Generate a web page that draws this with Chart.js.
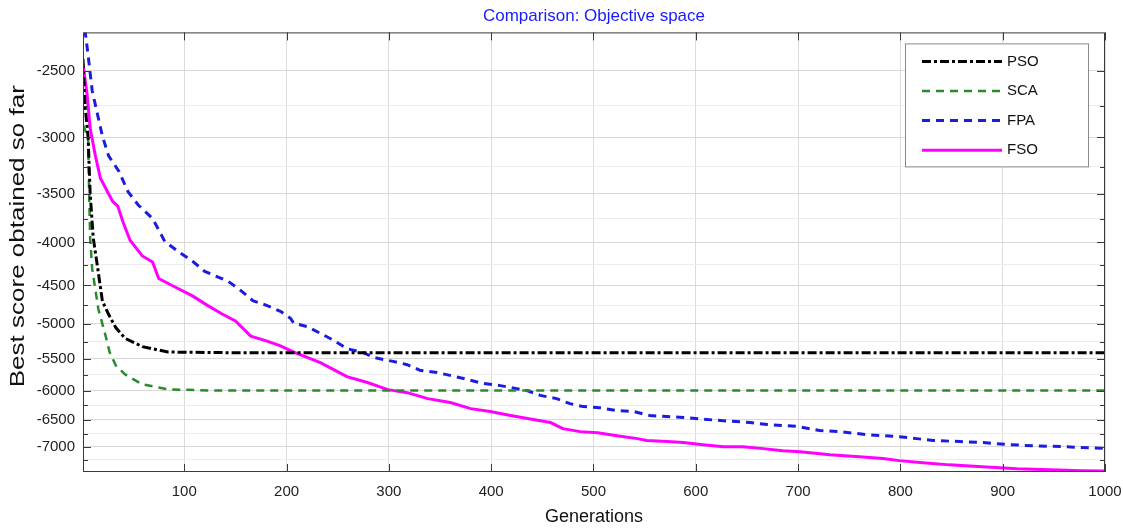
<!DOCTYPE html>
<html>
<head>
<meta charset="utf-8">
<title>Comparison: Objective space</title>
<script src="https://cdn.jsdelivr.net/npm/chart.js@4.4.1/dist/chart.umd.min.js"></script>
<style>
  html, body { margin: 0; padding: 0; background: #fff; }
</style>
</head>
<body>
<canvas id="scoreChart" width="1123" height="530"></canvas>
<script>
const FONT = "'Liberation Sans', Arial, sans-serif";

// Best score at the given generations
const psoGen  = [1, 3, 6, 8, 11, 15, 20, 26, 33, 42, 59, 84, 150, 1000];
const psoBest = [-2420, -2750, -3000, -3500, -3950, -4260, -4700, -4870, -5050, -5200, -5320, -5400, -5410, -5410];

const scaGen  = [1, 6, 7, 8, 10, 16, 23, 27, 33, 42, 59, 84, 124, 1000];
const scaBest = [-2900, -3000, -3500, -3950, -4300, -4800, -5160, -5400, -5600, -5740, -5900, -5980, -6000, -6000];

const fpaGen  = [1, 3, 6, 10, 15, 20, 26, 36, 45, 55, 69, 81, 94, 108, 120, 143, 155, 167, 181, 194, 204, 207,
  220, 233, 246, 259, 275, 285, 304, 318, 331, 347, 373, 392, 409, 435, 448, 464, 477, 490, 506, 523, 539,
  555, 588, 621, 653, 670, 699, 721, 741, 767, 799, 816, 832, 858, 881, 907, 930, 963, 985, 1000];
const fpaBest = [-2150, -2240, -2395, -2640, -2810, -2990, -3155, -3290, -3480, -3610, -3745, -3990, -4100, -4210,
  -4330, -4450, -4560, -4690, -4755, -4830, -4925, -4990, -5035, -5130, -5230, -5350, -5410, -5480, -5540,
  -5590, -5680, -5710, -5805, -5885, -5920, -6000, -6080, -6135, -6220, -6270, -6290, -6340, -6355, -6425,
  -6460, -6510, -6550, -6585, -6620, -6695, -6715, -6770, -6810, -6845, -6880, -6900, -6920, -6960, -6980,
  -7000, -7020, -7030];

const fsoGen  = [1, 5, 8, 13, 18, 30, 35, 40, 47, 59, 69, 75, 88, 108, 123, 137, 150, 165, 181, 194, 207, 220,
  233, 246, 259, 279, 299, 318, 338, 360, 380, 399, 419, 441, 458, 470, 487, 504, 523, 543, 552, 572, 588,
  607, 627, 646, 666, 685, 702, 731, 760, 783, 799, 822, 848, 880, 914, 946, 978, 1000];
const fsoBest = [-2460, -2665, -2925, -3150, -3355, -3575, -3620, -3780, -3975, -4150, -4220, -4415, -4500,
  -4630, -4755, -4865, -4960, -5170, -5240, -5310, -5400, -5480, -5560, -5665, -5775, -5870, -5985, -6035,
  -6135, -6200, -6305, -6355, -6425, -6495, -6550, -6660, -6715, -6735, -6790, -6845, -6880, -6900, -6920,
  -6960, -7000, -7000, -7035, -7075, -7095, -7155, -7195, -7230, -7270, -7310, -7355, -7395, -7435, -7455,
  -7475, -7480];

const seriesNames = ['PSO', 'SCA', 'FPA', 'FSO'];

// Axis ticks
const xTicks = [100, 200, 300, 400, 500, 600, 700, 800, 900, 1000];
const yTicks = [-2500, -3000, -3500, -4000, -4500, -5000, -5500, -6000, -6500, -7000];
const yMinorTicks = [-2750, -3250, -3750, -4250, -4750, -5250, -5750, -6250, -6750, -7250];

// y axis is logarithmic in the size of the (negative) score
const toPoints = (gens, best) => gens.map((g, i) => ({ x: g, y: Math.abs(best[i]) }));

const datasets = [
  { label: seriesNames[0], data: toPoints(psoGen, psoBest), borderColor: '#000000', borderWidth: 3, borderDash: [9, 3, 3, 3] },
  { label: seriesNames[1], data: toPoints(scaGen, scaBest), borderColor: '#2b8a2b', borderWidth: 2.5, borderDash: [8, 6] },
  { label: seriesNames[2], data: toPoints(fpaGen, fpaBest), borderColor: '#1c1ce0', borderWidth: 3, borderDash: [8, 6] },
  { label: seriesNames[3], data: toPoints(fsoGen, fsoBest), borderColor: '#ff00ff', borderWidth: 3, borderDash: [] },
].map((d) => ({ ...d, pointRadius: 0, tension: 0, fill: false, clip: 0 }));

// Box around the plot, inward ticks, legend and the y title
const framePlugin = {
  id: 'framePlugin',
  afterDatasetsDraw(chart) {
    const { ctx, chartArea: a, scales: { x, y } } = chart;
    ctx.save();
    ctx.strokeStyle = '#3a3a3a';
    ctx.lineWidth = 1;
    ctx.setLineDash([]);
    ctx.strokeRect(a.left + 0.5, a.top + 0.5, a.right - a.left - 1, a.bottom - a.top - 1);

    ctx.beginPath();
    xTicks.forEach((v) => {
      const px = Math.round(x.getPixelForValue(v)) + 0.5;
      ctx.moveTo(px, a.bottom); ctx.lineTo(px, a.bottom - 8);
      ctx.moveTo(px, a.top); ctx.lineTo(px, a.top + 8);
    });
    yTicks.concat(yMinorTicks).forEach((v) => {
      const py = Math.round(y.getPixelForValue(Math.abs(v))) + 0.5;
      const len = yMinorTicks.includes(v) ? 5 : 8;
      ctx.moveTo(a.left, py); ctx.lineTo(a.left + len, py);
      ctx.moveTo(a.right, py); ctx.lineTo(a.right - len, py);
    });
    ctx.stroke();

    // legend
    const bx = a.right - 200, by = a.top + 11, bw = 183, bh = 123;
    ctx.fillStyle = '#ffffff';
    ctx.fillRect(bx, by, bw, bh);
    ctx.strokeStyle = '#8a8a8a';
    ctx.strokeRect(bx + 0.5, by + 0.5, bw, bh);
    ctx.font = `15px ${FONT}`;
    ctx.textBaseline = 'middle';
    ctx.textAlign = 'left';
    chart.data.datasets.forEach((ds, i) => {
      const ry = by + 18 + i * 29.6;
      ctx.beginPath();
      ctx.strokeStyle = ds.borderColor;
      ctx.lineWidth = ds.borderWidth;
      ctx.setLineDash(ds.borderDash);
      ctx.moveTo(bx + 17, ry);
      ctx.lineTo(bx + 97, ry);
      ctx.stroke();
      ctx.setLineDash([]);
      ctx.fillStyle = '#111';
      ctx.fillText(ds.label, bx + 102, ry);
    });

    // y axis title, squeezed like the rest of the figure
    ctx.translate(19, (a.top + a.bottom) / 2 - 16);
    ctx.rotate(-Math.PI / 2);
    ctx.scale(1, 0.76);
    ctx.font = `26px ${FONT}`;
    ctx.textAlign = 'center';
    ctx.fillStyle = '#111';
    ctx.fillText('Best score obtained so far', 0, 0);
    ctx.restore();
  },
};

const chart = new Chart(document.getElementById('scoreChart').getContext('2d'), {
  type: 'line',
  data: { datasets },
  plugins: [framePlugin],
  options: {
    responsive: false,
    animation: false,
    events: [],
    layout: { padding: { left: 0, right: 18, top: 0, bottom: 0 } },
    plugins: {
      legend: { display: false },
      tooltip: { enabled: false },
      title: {
        display: true,
        fullSize: false,
        text: 'Comparison: Objective space',
        color: '#1a1aff',
        font: { family: FONT, size: 17, weight: 'normal' },
        padding: { top: 6, bottom: 6 },
      },
    },
    scales: {
      x: {
        type: 'linear',
        min: 1,
        max: 1000,
        afterBuildTicks: (s) => { s.ticks = xTicks.map((v) => ({ value: v })); },
        afterFit: (s) => { s.height = 58; s.paddingLeft = 0; s.paddingRight = 0; },
        grid: { color: '#dcdcdc', drawTicks: false },
        border: { display: false },
        ticks: {
          padding: 11,
          color: '#222',
          autoSkip: false,
          maxRotation: 0,
          font: { family: FONT, size: 15 },
          callback: (v) => String(v),
        },
        title: { display: true, text: 'Generations', color: '#111', font: { family: FONT, size: 18 }, padding: { top: 0, bottom: 2 } },
      },
      y: {
        type: 'logarithmic',
        reverse: true,
        min: 2250,
        max: 7500,
        afterBuildTicks: (s) => {
          s.ticks = yTicks.concat(yMinorTicks).map((v) => Math.abs(v)).sort((p, q) => p - q).map((v) => ({ value: v }));
        },
        afterFit: (s) => { s.width = 83; s.paddingTop = 0; s.paddingBottom = 0; },
        grid: {
          drawTicks: false,
          color: (c) => (c.tick && yMinorTicks.includes(-c.tick.value) ? '#ececec' : '#d8d8d8'),
        },
        border: { display: false },
        ticks: {
          padding: 8,
          color: '#222',
          autoSkip: false,
          font: { family: FONT, size: 15 },
          callback: (v) => (yTicks.includes(-v) ? String(-v) : ''),
        },
      },
    },
  },
});
</script>
</body>
</html>
